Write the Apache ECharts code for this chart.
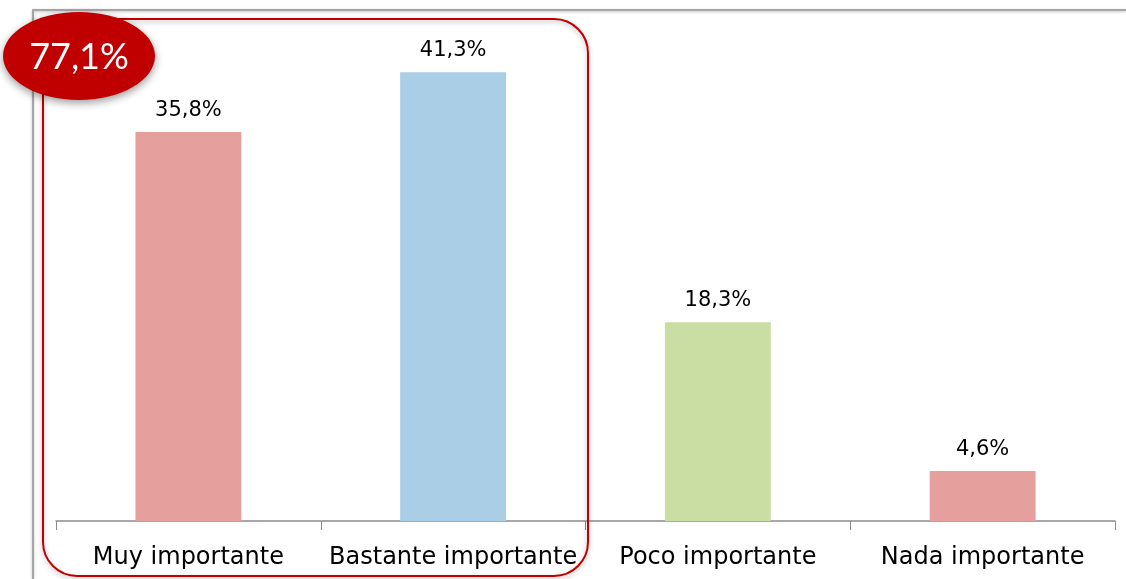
<!DOCTYPE html>
<html>
<head>
<meta charset="utf-8">
<script src="https://cdn.jsdelivr.net/npm/echarts@6/dist/echarts.min.js"></script>
<style>
  html, body { margin: 0; padding: 0; background: #fff; }
  #chart { width: 1126px; height: 579px; }
</style>
</head>
<body>
<div id="chart"></div>
<script>
var categories = ["Muy importante", "Bastante importante", "Poco importante", "Nada importante"];
var values = [35.8, 41.3, 18.3, 4.6];
var barColors = ["#E5A09E", "#A9CEE5", "#CADDA2", "#E5A09E"];
var totalLabel = "77,1%"; // muy + bastante

var font = "'DejaVu Sans', sans-serif";

var chart = echarts.init(document.getElementById("chart"));

chart.setOption({
    animation: false,
    grid: { left: 56, right: 11, top: 32, bottom: 58 },
    xAxis: {
        type: "category",
        data: categories,
        axisLine: { lineStyle: { color: "#8c8c8c", width: 1.5 } },
        axisTick: { show: true, interval: 0, length: 9, lineStyle: { color: "#8c8c8c" } },
        axisLabel: { interval: 0, color: "#000", fontSize: 24, fontFamily: font, margin: 25 }
    },
    yAxis: {
        type: "value",
        min: 0,
        max: 45,
        show: false,
        splitLine: { show: false }
    },
    series: [{
        type: "bar",
        barWidth: "40%",
        data: values.map(function (v, i) {
            return { value: v, itemStyle: { color: barColors[i] } };
        }),
        label: {
            show: true,
            position: "top",
            distance: 11,
            color: "#000",
            fontSize: 21,
            fontFamily: font,
            formatter: function (p) {
                return p.value.toFixed(1).replace(".", ",") + "%";
            }
        }
    }],
    graphic: [
        // outer gray frame (top and left edges)
        {
            type: "polyline",
            shape: { points: [[33, 579], [33, 10], [1126, 10]] },
            style: { fill: null, stroke: "#a6a6a6", lineWidth: 2,
                     shadowBlur: 3, shadowColor: "rgba(0,0,0,0.25)", shadowOffsetY: 1 },
            z: 10
        },
        // red rounded box around first two categories
        {
            type: "rect",
            shape: { x: 43, y: 19, width: 545, height: 557, r: 34 },
            style: { fill: null, stroke: "#C00000", lineWidth: 2,
                     shadowBlur: 5, shadowColor: "rgba(0,0,0,0.3)", shadowOffsetY: 2 },
            z: 11
        },
        {
            type: "ellipse",
            shape: { cx: 79, cy: 56, rx: 76, ry: 44 },
            style: { fill: "#C00000",
                     shadowBlur: 8, shadowColor: "rgba(0,0,0,0.4)", shadowOffsetY: 3 },
            z: 12
        },
        {
            type: "text",
            x: 79,
            y: 57,
            style: { text: totalLabel, fill: "#fff", font: "36px Lato, sans-serif",
                     align: "center", verticalAlign: "middle" },
            z: 13
        }
    ]
});
</script>
</body>
</html>
